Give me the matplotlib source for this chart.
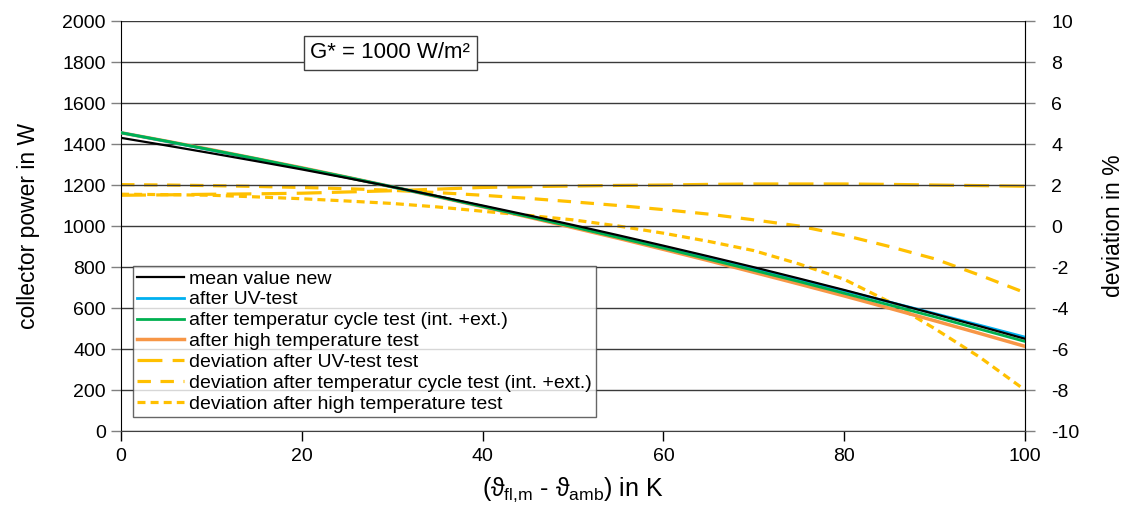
import matplotlib
matplotlib.use("Agg")
import matplotlib.pyplot as plt

plt.rcParams['font.family'] = ['Liberation Sans', 'DejaVu Sans']
plt.rcParams['mathtext.fontset'] = 'custom'
plt.rcParams['mathtext.rm'] = 'Liberation Sans'
plt.rcParams['mathtext.it'] = 'Liberation Sans'
plt.rcParams['mathtext.fallback'] = 'stix'
plt.rcParams['axes.unicode_minus'] = False

# ---- data ----
x = [0, 5, 10, 15, 20, 25, 30, 35, 40, 45, 50, 55, 60, 65, 70, 75, 80, 85, 90, 95, 100]

power_mean = [1430, 1393, 1355, 1316, 1276, 1234, 1191, 1146, 1100, 1053, 1005,
              955, 904, 852, 799, 744, 688, 630, 571, 511, 450]
power_uv = [1455, 1413, 1370, 1327, 1282, 1237, 1191, 1144, 1096, 1048, 998,
            948, 897, 845, 792, 739, 684, 629, 573, 516, 458]
power_tc = [1455, 1414, 1371, 1328, 1283, 1238, 1191, 1144, 1095, 1046, 996,
            944, 892, 838, 784, 729, 672, 615, 557, 497, 437]
power_ht = [1455, 1414, 1372, 1328, 1284, 1238, 1191, 1143, 1094, 1044, 992,
            940, 886, 831, 774, 717, 659, 599, 538, 476, 413]

dev_uv = [1.5, 1.52, 1.55, 1.57, 1.6, 1.66, 1.72, 1.8, 1.88, 1.92, 1.95,
          1.98, 2.0, 2.03, 2.05, 2.05, 2.05, 2.03, 2.0, 1.97, 1.94]
dev_tc = [2.02, 2.0, 1.97, 1.93, 1.88, 1.82, 1.74, 1.63, 1.5, 1.35, 1.18,
          1.0, 0.8, 0.58, 0.3, 0.0, -0.45, -1.0, -1.6, -2.4, -3.25]
dev_ht = [1.55, 1.53, 1.5, 1.42, 1.33, 1.22, 1.1, 0.93, 0.72, 0.52, 0.3,
          0.0, -0.35, -0.75, -1.2, -1.85, -2.6, -3.7, -5.0, -6.4, -8.0]

labels = ["mean value new", "after UV-test",
          "after temperatur cycle test (int. +ext.)",
          "after high temperature test",
          "deviation after UV-test test",
          "deviation after temperatur cycle test (int. +ext.)",
          "deviation after high temperature test"]

x_ticks = [0, 20, 40, 60, 80, 100]
y_ticks = [0, 200, 400, 600, 800, 1000, 1200, 1400, 1600, 1800, 2000]
y2_ticks = [-10, -8, -6, -4, -2, 0, 2, 4, 6, 8, 10]

# ---- plot ----
fig = plt.figure(figsize=(11.25, 5.16), dpi=100)
ax = fig.add_axes([0.1076, 0.1647, 0.8035, 0.7946])
ax2 = ax.twinx()

gridc = '#3a3a3a'
for v in y_ticks:
    ax.axhline(v, color=gridc, lw=1.0, zorder=0)

ax.set_xlim(0, 100)
ax.set_ylim(0, 2000)
ax2.set_ylim(-10, 10)
ax.set_xticks(x_ticks)
ax.set_yticks(y_ticks)
ax2.set_yticks(y2_ticks)

yellow = '#FFC000'
l5, = ax2.plot(x, dev_uv, color=yellow, lw=2.3, linestyle=(0, (7.8, 3.2)))
l6, = ax2.plot(x, dev_tc, color=yellow, lw=2.3, linestyle=(0, (4.2, 3.0)))
l7, = ax2.plot(x, dev_ht, color=yellow, lw=2.3, linestyle=(0, (2.5, 1.6)))

l1, = ax.plot(x, power_mean, color='black', lw=1.6, zorder=5)
l2, = ax.plot(x, power_uv, color='#00B0F0', lw=2.0, zorder=4)
l3, = ax.plot(x, power_tc, color='#00B050', lw=2.0, zorder=4.5)
l4, = ax.plot(x, power_ht, color='#F79646', lw=2.5, zorder=3)

ax.set_zorder(ax2.get_zorder() + 1)
ax.patch.set_visible(False)

grey = '#808080'
for a in (ax, ax2):
    a.spines['top'].set_visible(False)
ax.spines['left'].set_color('black')
ax.spines['bottom'].set_color('#404040')
ax2.spines['right'].set_color(grey)
ax2.spines['left'].set_visible(False)
ax2.spines['bottom'].set_visible(False)

ax.tick_params(axis='y', length=7, width=1, color=grey, labelsize=14, pad=4)
ax.tick_params(axis='x', length=7, width=1, color='black', labelsize=14, pad=5)
ax2.tick_params(axis='y', length=7, width=1, color=grey, labelsize=14, pad=12)

ax.set_ylabel("collector power in W", fontsize=16.5, labelpad=16)
ax2.set_ylabel("deviation in %", fontsize=16.5, labelpad=16)
ax.set_xlabel(r"($\vartheta_{\mathrm{fl{,}m}}$ - $\vartheta_{\mathrm{amb}}$) in K",
              fontsize=18, labelpad=8)

ax.text(29.8, 1845, "G* = 1000 W/m²", fontsize=16, ha='center', va='center',
        bbox=dict(boxstyle='square,pad=0.3', fc='white', ec='#404040', lw=1.0),
        zorder=6)

handles = [l1, l2, l3, l4, l5, l6, l7]
leg = ax.legend(handles, labels, loc='upper left',
                bbox_to_anchor=(0.0133, 0.4024), fontsize=14,
                frameon=True, fancybox=False, edgecolor='#404040',
                handlelength=2.4, handletextpad=0.3, labelspacing=0.17,
                borderpad=0.2, borderaxespad=0)
leg.get_frame().set_linewidth(1.0)
leg.set_zorder(10)

fig.savefig("out.png", dpi=100)
